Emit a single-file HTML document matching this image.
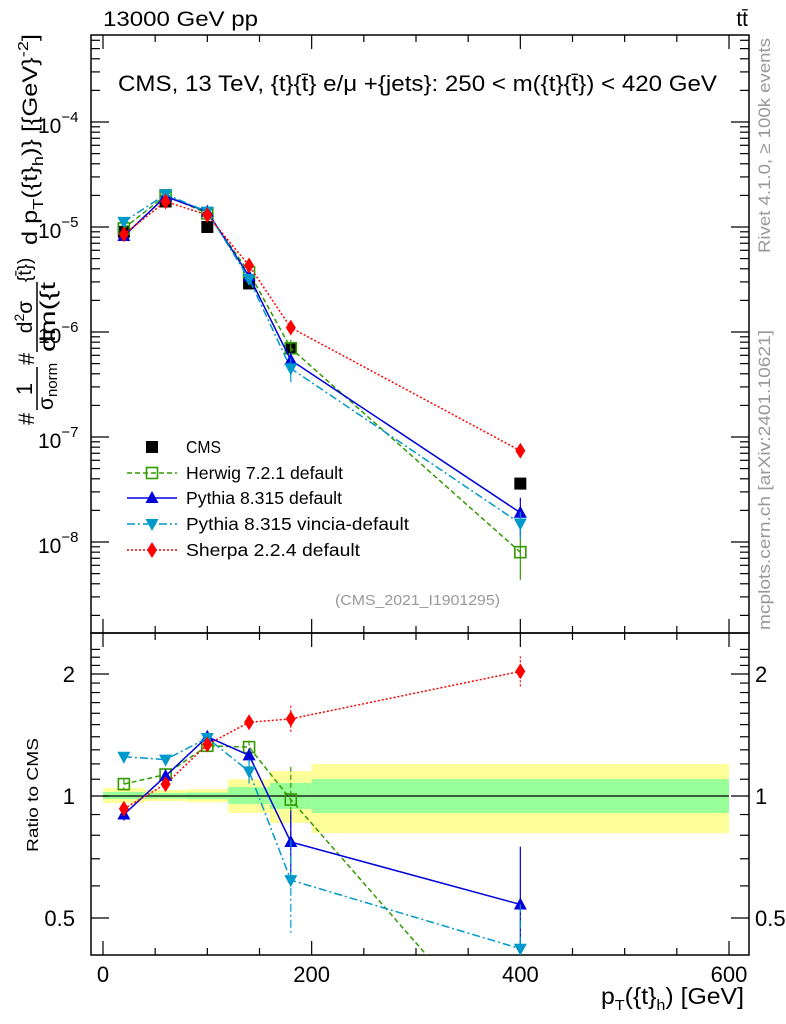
<!DOCTYPE html>
<html><head><meta charset="utf-8"><style>
html,body{margin:0;background:#fff;overflow:hidden;width:786px;height:1024px}
svg{display:block;font-family:"Liberation Sans",sans-serif}
</style></head><body>
<svg id="c" width="786" height="1024" viewBox="0 0 786 1024"></svg>
<script>
const xCenters=[20,60,100,140,180,400];
const binEdges=[0,40,80,120,160,200,600];
const cmsVals=[9e-6,1.75e-5,1e-5,2.9e-6,7e-7,3.6e-8];
const herwigVals=[9.7e-6,2.0e-5,1.35e-5,3.7e-6,7e-7,8e-9];
const pythiaVals=[8.2e-6,1.95e-5,1.4e-5,3.4e-6,5.4e-7,1.9e-8];
const vinciaVals=[1.12e-5,2.05e-5,1.4e-5,3.2e-6,4.5e-7,1.5e-8];
const sherpaVals=[8.5e-6,1.75e-5,1.3e-5,4.3e-6,1.1e-6,7.4e-8];
const herwigRatio=[1.07,1.13,1.33,1.32,0.98,0.22];
const pythiaRatio=[0.90,1.12,1.40,1.26,0.77,0.54];
const vinciaRatio=[1.25,1.23,1.39,1.15,0.62,0.42];
const sherpaRatio=[0.93,1.07,1.34,1.52,1.55,2.03];
const pythiaRatioErr=[0.03,0.03,0.04,0.05,0.15,0.21];
const vinciaRatioErr=[0.03,0.03,0.03,0.08,0.16,0.12];
const herwigRatioErr=[0.03,0.03,0.03,0.05,0.2,0.1];
const sherpaRatioErr=[0.02,0.02,0.03,0.05,0.12,0.18];
const bandYellowHi=[1.046,1.035,1.04,1.10,1.152,1.199];
const bandYellowLo=[0.961,0.972,0.965,0.908,0.858,0.81];
const bandGreenHi=[1.023,1.018,1.02,1.052,1.077,1.101];
const bandGreenLo=[0.983,0.986,0.982,0.956,0.929,0.908];
const xTicks=[0,200,400,600];
const yMainTicks=[-8,-7,-6,-5,-4];
const ratioTicks=[0.5,1,2];

const svg=document.getElementById('c');
const NS='http://www.w3.org/2000/svg';
function mk(tag,attrs,parent){const e=document.createElementNS(NS,tag);for(const k in attrs)e.setAttribute(k,attrs[k]);(parent||svg).appendChild(e);return e;}
const X=v=>103+v*626/600;
const Ym=v=>122+(-4-Math.log10(v))*105;
const Yr=r=>796-Math.log2(r)*122;
const L=91,R=749,T=35,MB=633,RB=955;

const defs=mk('defs',{});
const cp=mk('clipPath',{id:'rc'},defs);mk('rect',{x:L,y:MB,width:R-L,height:RB-MB},cp);
const cp2=mk('clipPath',{id:'mc'},defs);mk('rect',{x:L,y:T,width:R-L,height:MB-T},cp2);
const bands=mk('g',{'clip-path':'url(#rc)'});


for(let i=0;i<xCenters.length;i++){
 const x0=X(binEdges[i]),x1=X(binEdges[i+1]);
 const y=mk('rect',{x:x0,y:Yr(bandYellowHi[i]),width:x1-x0,height:Yr(bandYellowLo[i])-Yr(bandYellowHi[i]),fill:'#ffff99'},bands);
 
 
 const g=mk('rect',{x:x0,y:Yr(bandGreenHi[i]),width:x1-x0,height:Yr(bandGreenLo[i])-Yr(bandGreenHi[i]),fill:'#99ff99'},bands);
 
 
}
mk('line',{x1:X(0),x2:X(600),y1:Yr(1),y2:Yr(1),stroke:'#000','stroke-width':1.2});

const fr=mk('g',{fill:'none',stroke:'#000','stroke-width':1.5});


mk('rect',{x:L,y:T,width:R-L,height:MB-T},fr);
mk('rect',{x:L,y:MB,width:R-L,height:RB-MB},fr);
for(let v=0;v<=600;v+=50){const maj=v%200===0;const len=maj?14:7;
 [[MB,-1],[T,1],[RB,-1],[MB,1]].forEach(([yy,d])=>mk('line',{x1:X(v),x2:X(v),y1:yy,y2:yy+d*len,stroke:'#000','stroke-width':1.2}));}
xTicks.forEach(v=>{const t=mk('text',{x:X(v),y:982,'font-size':22,'text-anchor':'middle'});t.textContent=v;
 
 });
for(let d=-9;d<=-3;d++)for(let m=1;m<10;m++){const v=m*Math.pow(10,d);const y=Ym(v);if(y<T||y>MB)continue;
 const len=m===1?18:9;
 mk('line',{x1:L,x2:L+len,y1:y,y2:y,stroke:'#000','stroke-width':1.2});
 mk('line',{x1:R,x2:R-len,y1:y,y2:y,stroke:'#000','stroke-width':1.2});}
yMainTicks.forEach(e=>{const t=mk('text',{x:38,y:Ym(Math.pow(10,e))+11,'font-size':21});
 t.innerHTML='10<tspan dy="-11" font-size="15">−'+Math.abs(e)+'</tspan>';
 
 });
for(let r=0.4;r<=2.4;r+=0.1){const y=Yr(r);if(y<MB||y>RB)continue;
 const maj=[0.5,1,2].some(q=>Math.abs(q-r)<1e-6);const len=maj?18:9;
 mk('line',{x1:L,x2:L+len,y1:y,y2:y,stroke:'#000','stroke-width':1.2});
 mk('line',{x1:R,x2:R-len,y1:y,y2:y,stroke:'#000','stroke-width':1.2});}
ratioTicks.forEach(r=>{[[75,'end'],[755,'start']].forEach(([x,a])=>{const t=mk('text',{x:x,y:Yr(r)+8,'font-size':22,'text-anchor':a});t.textContent=r;
 
 });});

function marker(type,x,y,c,g){
 if(type==='sq')mk('rect',{x:x-6,y:y-6,width:12,height:12,fill:'#000'},g);
 if(type==='osq')mk('rect',{x:x-5.5,y:y-5.5,width:11,height:11,fill:'none',stroke:c,'stroke-width':1.6},g);
 if(type==='up')mk('polygon',{points:`${x},${y-7} ${x-6.5},${y+5} ${x+6.5},${y+5}`,fill:c},g);
 if(type==='dn')mk('polygon',{points:`${x},${y+7} ${x-6.5},${y-5} ${x+6.5},${y-5}`,fill:c},g);
 if(type==='dia')mk('polygon',{points:`${x},${y-8} ${x-5},${y} ${x},${y+8} ${x+5},${y}`,fill:c},g);
}
const series=[
 {name:'herwig',vals:herwigVals,ratio:herwigRatio,err:herwigRatioErr,c:'#339900',dash:'5,3',m:'osq'},
 {name:'pythia',vals:pythiaVals,ratio:pythiaRatio,err:pythiaRatioErr,c:'#0000dd',dash:'',m:'up'},
 {name:'vincia',vals:vinciaVals,ratio:vinciaRatio,err:vinciaRatioErr,c:'#0099cc',dash:'8,3,2,3',m:'dn'},
 {name:'sherpa',vals:sherpaVals,ratio:sherpaRatio,err:sherpaRatioErr,c:'#ff0000',dash:'2,2',m:'dia'}];
const cms=mk('g',{});


xCenters.forEach((x,i)=>marker('sq',X(x),Ym(cmsVals[i]),'#000',cms));
series.forEach(s=>{
 const g=mk('g',{'clip-path':'url(#mc)'});
 
 
 mk('polyline',{points:xCenters.map((x,i)=>X(x)+','+Ym(s.vals[i])).join(' '),fill:'none',stroke:s.c,'stroke-width':1.5,'stroke-dasharray':s.dash},g);
 xCenters.forEach((x,i)=>{const rel=s.err[i]/s.ratio[i];
  mk('line',{x1:X(x),x2:X(x),y1:Ym(s.vals[i]*(1+rel)),y2:Ym(s.vals[i]*Math.max(0.05,1-rel)),stroke:s.c,'stroke-width':1.2},g);
  marker(s.m,X(x),Ym(s.vals[i]),s.c,g);});
 const r=mk('g',{'clip-path':'url(#rc)'});
 
 
 mk('polyline',{points:xCenters.map((x,i)=>X(x)+','+Yr(s.ratio[i])).join(' '),fill:'none',stroke:s.c,'stroke-width':1.5,'stroke-dasharray':s.dash},r);
 xCenters.forEach((x,i)=>{
  mk('line',{x1:X(x),x2:X(x),y1:Yr(s.ratio[i]+s.err[i]),y2:Yr(Math.max(0.05,s.ratio[i]-s.err[i])),stroke:s.c,'stroke-width':1.2,'stroke-dasharray':s.dash},r);
  marker(s.m,X(x),Yr(s.ratio[i]),s.c,r);});
});

const legNames=['CMS','Herwig 7.2.1 default','Pythia 8.315 default','Pythia 8.315 vincia-default','Sherpa 2.2.4 default'];
const legLen=[35,157,156,223,174];
const legY=[447,473,498,524,550];
legNames.forEach((n,i)=>{const g=mk('g',{});
 
 
 if(i===0)marker('sq',152,legY[i],'#000',g);
 else{const s=series[i-1];mk('line',{x1:127,x2:177,y1:legY[i],y2:legY[i],stroke:s.c,'stroke-width':1.5,'stroke-dasharray':s.dash},g);marker(s.m,152,legY[i],s.c,g);}
 const t=mk('text',{x:186,y:legY[i]+6,'font-size':17.5,textLength:legLen[i],lengthAdjust:'spacingAndGlyphs'},g);t.textContent=n;});

function txt(x,y,s,attrs,name){const t=mk('text',Object.assign({x:x,y:y},attrs));t.innerHTML=s;
 
 return t;}
const LA='spacingAndGlyphs';
txt(103,26,'13000 GeV pp',{'font-size':21,textLength:155,lengthAdjust:LA},'title-left');
txt(748,26,'tt̄',{'font-size':21,'text-anchor':'end'},'title-right');
txt(118,91,'CMS, 13 TeV, {t}{t̄} e/μ +{jets}: 250 &lt; m({t}{t̄}) &lt; 420 GeV',{'font-size':22,textLength:599,lengthAdjust:LA},'plot-label');
txt(335,605,'(CMS_2021_I1901295)',{'font-size':15,fill:'#999',textLength:165,lengthAdjust:LA},'analysis-id');
txt(601,1004,'p<tspan dy="6" font-size="15">T</tspan><tspan dy="-6">({t}</tspan><tspan dy="6" font-size="15">h</tspan><tspan dy="-6">) [GeV]</tspan>',{'font-size':23,textLength:143,lengthAdjust:LA},'x-axis-title');
txt(0,0,'Ratio to CMS',{'font-size':16,transform:'translate(38,852) rotate(-90)',textLength:114,lengthAdjust:LA},'ratio-axis-title');
txt(0,0,'Rivet 4.1.0, ≥ 100k events',{'font-size':17,fill:'#999',transform:'translate(770,253) rotate(-90)',textLength:215,lengthAdjust:LA},'rivet-label');
txt(0,0,'mcplots.cern.ch [arXiv:2401.10621]',{'font-size':17,fill:'#999',transform:'translate(770,630) rotate(-90)',textLength:300,lengthAdjust:LA},'mcplots-label');

const yt=mk('g',{transform:'translate(35,425) rotate(-90)','font-size':21});


function yt_t(x,y,s,a){const t=mk('text',Object.assign({x:x,y:y},a||{}),yt);t.innerHTML=s;return t;}
yt_t(0,-1,'#',{'font-size':22});
yt_t(36,-3,'1',{'text-anchor':'middle','font-size':22});
mk('line',{x1:15,x2:58,y1:2,y2:2,stroke:'#000','stroke-width':1.5},yt);
yt_t(15,18,'σ<tspan dy="4" font-size="15">norm</tspan>');
yt_t(60,-1,'#',{'font-size':22});
yt_t(108,-3,'d<tspan dy="-8" font-size="14">2</tspan><tspan dy="8">σ</tspan>',{'text-anchor':'middle'});
mk('line',{x1:73,x2:143,y1:2,y2:2,stroke:'#000','stroke-width':1.5},yt);
yt_t(73,20,'dm({t',{textLength:70,lengthAdjust:LA});
yt_t(143,-4,'{t̄})',{'font-size':19});
yt_t(180,2,'d p<tspan dy="6" font-size="15">T</tspan><tspan dy="-6">({t}</tspan><tspan dy="6" font-size="15">h</tspan><tspan dy="-6">)} [{GeV}</tspan><tspan dy="-9" font-size="15">-2</tspan><tspan dy="9">]</tspan>',{textLength:211,lengthAdjust:LA});
</script>
</body></html>
